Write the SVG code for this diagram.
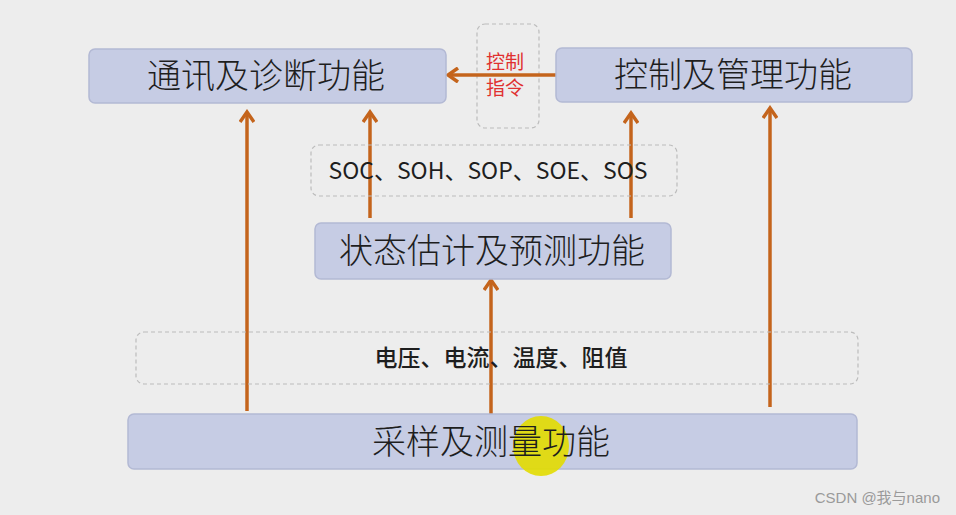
<svg xmlns="http://www.w3.org/2000/svg" width="956" height="515" viewBox="0 0 956 515">
<style>
.box{fill:#c6cce4;stroke:#b3b9d4;stroke-width:1.5}
.dash{fill:none;stroke:#bcbcbc;stroke-width:1.2;stroke-dasharray:4 3}
.t{font-family:"Noto Sans CJK SC","Noto Sans",sans-serif;font-size:34px;font-weight:300;fill:#1e1e1e;text-anchor:middle}
.s{font-family:"Noto Sans CJK SC","Noto Sans",sans-serif;font-size:23px;fill:#1e1e1e;text-anchor:middle}
.r{font-family:"Noto Sans CJK SC",sans-serif;font-size:19px;fill:#e03030;text-anchor:middle}
.c{stroke:#c4641c;stroke-width:3.5;fill:none}
</style>
<defs>
<marker id="ah" viewBox="0 0 16 16" refX="13" refY="8" markerWidth="16" markerHeight="16" markerUnits="userSpaceOnUse" orient="auto">
<polyline points="3,1 13,8 3,15" fill="none" stroke="#c4641c" stroke-width="3.5"/>
</marker>
</defs>
<rect width="956" height="515" fill="#ededed"/>
<g id="n-ctrl-cmd">
<rect class="dash" x="477" y="24" width="62" height="104" rx="8"/>
<text class="r" x="505" y="69">控制</text>
<text class="r" x="505" y="95">指令</text>
</g>
<g id="connectors">
<line class="c" x1="556" y1="75" x2="448" y2="75" marker-end="url(#ah)"/>
<line class="c" x1="247" y1="411" x2="247" y2="112" marker-end="url(#ah)"/>
<line class="c" x1="370" y1="218" x2="370" y2="112" marker-end="url(#ah)"/>
<line class="c" x1="631" y1="218" x2="631" y2="113" marker-end="url(#ah)"/>
<line class="c" x1="770" y1="407" x2="770" y2="108" marker-end="url(#ah)"/>
<line class="c" x1="491" y1="415" x2="491" y2="280" marker-end="url(#ah)"/>
</g>
<g id="n-comm">
<rect class="box" x="89" y="49" width="357" height="54" rx="6"/>
<text class="t" x="266" y="88">通讯及诊断功能</text>
</g>
<g id="n-mgmt">
<rect class="box" x="556" y="48" width="356" height="54" rx="6"/>
<text class="t" x="733" y="87">控制及管理功能</text>
</g>
<g id="n-soc">
<rect class="dash" x="311" y="145" width="366" height="51" rx="8"/>
<text class="s" x="488" y="179">SOC、SOH、SOP、SOE、SOS</text>
</g>
<g id="n-state">
<rect class="box" x="315" y="223" width="356" height="56" rx="6"/>
<text class="t" x="492" y="263">状态估计及预测功能</text>
</g>
<g id="n-meas">
<rect class="dash" x="136" y="332" width="722" height="52" rx="8"/>
<text class="s" x="501" y="366" font-weight="500">电压、电流、温度、阻值</text>
</g>
<g id="n-sample">
<rect class="box" x="128" y="414" width="729" height="55" rx="6"/>
<ellipse cx="541" cy="446" rx="28" ry="30" fill="#e2dc00" opacity="0.9"/>
<text class="t" x="491" y="454">采样及测量功能</text>
</g>
<text x="940" y="503" font-family="'Liberation Sans','Noto Sans CJK SC',sans-serif" font-size="15" fill="#9a9a9a" text-anchor="end">CSDN @我与nano</text>
</svg>
